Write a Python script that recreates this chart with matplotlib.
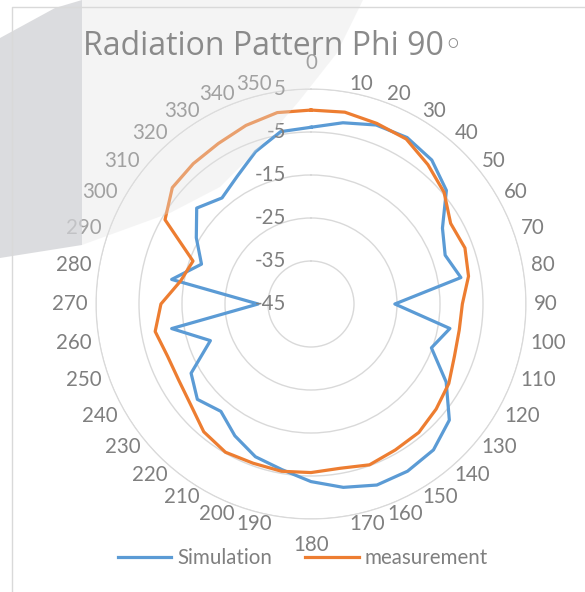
import numpy as np
import matplotlib
matplotlib.use('Agg')
import matplotlib.pyplot as plt
from matplotlib.patches import Polygon
from matplotlib.lines import Line2D

plt.rcParams['font.family'] = ['Lato', 'DejaVu Sans']

# radar chart data (dB), one value every 10 degrees
angles_deg = list(range(0, 360, 10))
angle_labels = [str(a) for a in angles_deg]
simulation = [-3.9, -2.2, -0.7, -0.3, -1.3, -3.9, -9.7, -11.8, -9.6, -25.5,
              -12.2, -15.2, -8.7, -3.0, -0.7, -0.1, -0.2, -1.7, -3.7, -5.9,
              -7.2, -9.6, -12.4, -10.5, -12.8, -20.1, -12.1, -32.7, -12.1, -17.9,
              -14.2, -10.3, -12.8, -10.7, -7.3, -4.3]
measurement = [0.1, 0.3, -0.3, -0.7, -2.7, -4.6, -7.5, -6.9, -7.8, -9.8,
               -10.0, -9.5, -8.0, -7.0, -6.0, -5.8, -5.2, -6.2, -5.8, -5.5,
               -5.6, -5.2, -6.2, -8.5, -9.5, -9.5, -8.2, -10.1, -14.2, -15.8,
               -5.8, -2.9, -2.4, -1.9, -0.8, 0.2]
r_ticks = [-45, -35, -25, -15, -5, 5]
series_names = ['Simulation', 'measurement']

W, H = 585, 592
fig = plt.figure(figsize=(W / 100, H / 100), dpi=100)

def px(x, y):
    # pixel (top-left origin) -> figure fraction
    return (x / W, 1 - y / H)

# chart border
fig.add_artist(Line2D([12 / W, 12 / W, 1], [0, 1 - 7 / H, 1 - 7 / H],
                      transform=fig.transFigure, color='#d9d9d9', lw=1))

cx, cy, R = 311, 304, 215
ax = fig.add_axes([(cx - R) / W, (H - cy - R) / H, 2 * R / W, 2 * R / H], projection='polar')
ax.set_theta_zero_location('N')
ax.set_theta_direction(-1)
ax.set_ylim(-45, 5)
ax.set_yticks(r_ticks)
ax.set_yticklabels([])
ax.set_xticks(np.deg2rad(angles_deg))
ax.set_xticklabels([])
ax.xaxis.grid(False)
ax.yaxis.grid(True, color='#d9d9d9', lw=1)
ax.spines['polar'].set_color('#d9d9d9')
ax.tick_params(length=0)
ax.set_facecolor('none')

theta = np.deg2rad(angles_deg + [angles_deg[0]])
ax.plot(theta, simulation + [simulation[0]], color='#5B9BD5', lw=2.3, label=series_names[0])
ax.plot(theta, measurement + [measurement[0]], color='#ED7D31', lw=2.3, label=series_names[1])

lab_color = '#7f7f7f'
fs = 14.8
for a, lab in zip(angles_deg, angle_labels):
    t = np.deg2rad(a)
    if a in (0, 180):
        d = 26 * 0.72
        ha, va = 'center', 'center'
    else:
        d = 8 * 0.72
        ha = 'left' if a < 180 else 'right'
        va = 'center'
    ax.annotate(lab, xy=(t, 5), xytext=(d * np.sin(t), d * np.cos(t)),
                textcoords='offset points', ha=ha, va=va, fontsize=fs,
                color=lab_color, annotation_clip=False)

for v in r_ticks:
    ax.annotate(str(v), xy=(0, v), xytext=(-25 * 0.72, 0), textcoords='offset points',
                ha='right', va='center', fontsize=fs, color=lab_color, annotation_clip=False)

fig.text(273 / W, 1 - 55 / H, 'Radiation Pattern Phi 90\u25e6', ha='center', va='baseline',
         fontsize=23, color='#8a8a8a', family=['Open Sans', 'DejaVu Sans'])

fig.legend(loc='center', bbox_to_anchor=px(303, 558), ncol=2, frameon=False,
           fontsize=fs, handlelength=2.6, handletextpad=0.3, columnspacing=1.6,
           labelcolor=lab_color)

# grey overlay left over from the screenshot
light = [(82, 0), (363, 0), (337, 53), (300, 100), (260, 147), (220, 187), (170, 213), (82, 245)]
fig.add_artist(Polygon([px(*p) for p in light], closed=True, transform=fig.transFigure,
                       facecolor='#e2e2e2', edgecolor='none', alpha=0.35))
dark = [(0, 38), (55, 8), (82, 0), (82, 245), (0, 258)]
fig.add_artist(Polygon([px(*p) for p in dark], closed=True, transform=fig.transFigure,
                       facecolor='#d3d4d7', edgecolor='none', alpha=0.8))

fig.savefig('out.png', dpi=100)
